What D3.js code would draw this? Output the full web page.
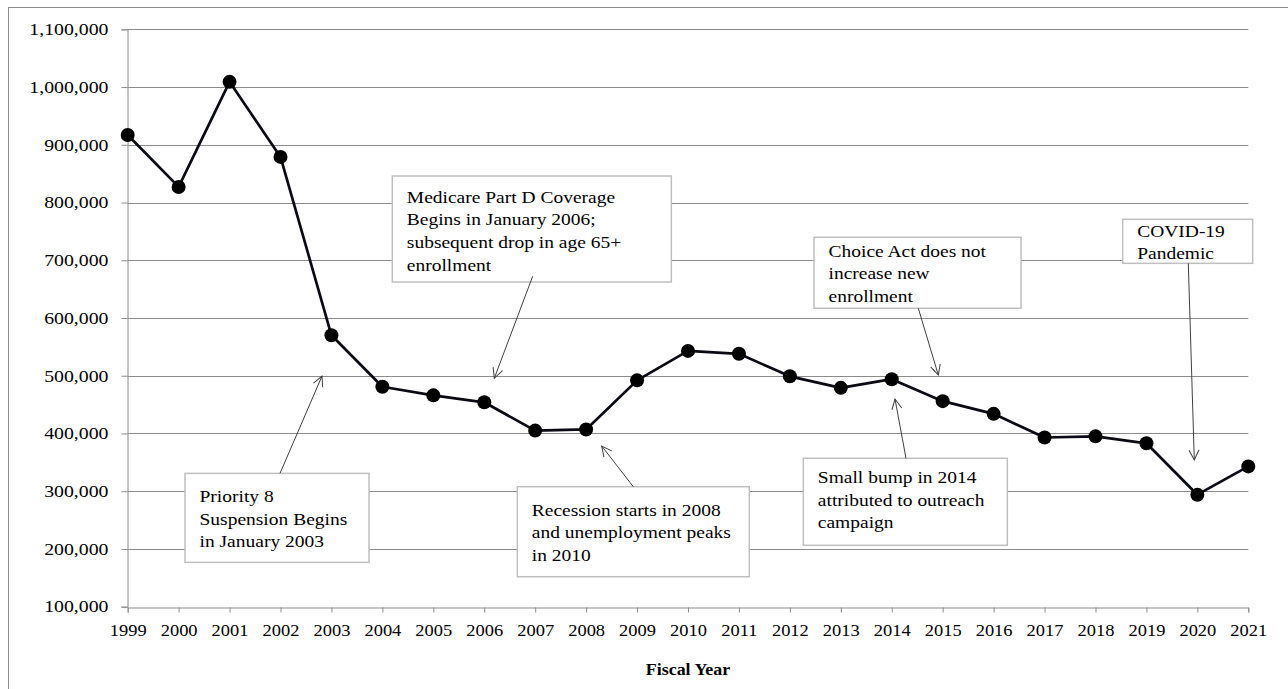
<!DOCTYPE html>
<html>
<head>
<meta charset="utf-8">
<script src="https://cdn.jsdelivr.net/npm/d3@7/dist/d3.min.js"></script>
<style>
  html, body { margin: 0; padding: 0; background: #fff; }
  svg { display: block; }
  text { font-family: "Liberation Serif", "Times New Roman", serif; fill: #000; }
</style>
</head>
<body>
<svg id="chart" width="1288" height="689"></svg>
<script>
// Fiscal years on the x axis
const years = [1999, 2000, 2001, 2002, 2003, 2004, 2005, 2006, 2007, 2008, 2009, 2010,
               2011, 2012, 2013, 2014, 2015, 2016, 2017, 2018, 2019, 2020, 2021];

// New enrollment per fiscal year
const enrollment = [917000, 827000, 1009000, 879000, 570000, 481000, 466000, 454000,
                    405000, 407000, 492000, 543000, 538000, 499000, 479000, 494000,
                    456000, 434000, 393000, 395000, 383000, 294000, 343000];

// Y axis tick values
const yTicks = [100000, 200000, 300000, 400000, 500000, 600000, 700000, 800000,
                900000, 1000000, 1100000];

const xTitle = "Fiscal Year";

// Callout notes: box corner and arrow ends in (year, value) units
const notes = [
  { lines: ["Priority 8", "Suspension Begins", "in January 2003"],
    box: [2000.125, 330900], w: 184, h: 89, padTop: 23,
    from: [2001.99, 330900], to: [2002.815, 499500] },
  { lines: ["Medicare Part D Coverage", "Begins in January 2006;", "subsequent drop in age 65+", "enrollment"],
    box: [2004.195, 845900], w: 279, h: 106, padTop: 21,
    from: [2006.951, 672300], to: [2006.197, 495600] },
  { lines: ["Recession starts in 2008", "and unemployment peaks", "in 2010"],
    box: [2006.649, 307800], w: 232, h: 90, padTop: 23,
    from: [2008.926, 307800], to: [2008.306, 378300] },
  { lines: ["Choice Act does not", "increase new", "enrollment"],
    box: [2012.474, 739800], w: 207, h: 71, padTop: 13.5,
    from: [2014.522, 616700], to: [2014.914, 501300] },
  { lines: ["Small bump in 2014", "attributed to outreach", "campaign"],
    box: [2012.264, 357000], w: 204, h: 87, padTop: 19,
    from: [2014.28, 357000], to: [2014.064, 459700] },
  { lines: ["COVID-19", "Pandemic"],
    box: [2018.534, 770900], w: 130, h: 44, padTop: 11.5,
    from: [2019.822, 694700], to: [2019.94, 354100] }
];

const svg = d3.select("#chart");
const stretch = 1.12;          // wide serif lettering
const lineGap = 22.6;

// Outer chart frame
svg.append("rect")
  .attr("x", 8.5).attr("y", 7.5)
  .attr("width", 1300).attr("height", 700)
  .attr("fill", "none").attr("stroke", "#8c8c8c").attr("stroke-width", 1);

const x = d3.scaleLinear().domain([years[0], years[years.length - 1]]).range([127.7, 1248.3]);
const y = d3.scaleLinear().domain([yTicks[0], yTicks[yTicks.length - 1]]).range([606.7, 29.3]);

// Horizontal gridlines
svg.append("g")
  .selectAll("line")
  .data(yTicks.slice(1))
  .join("line")
  .attr("x1", x.range()[0]).attr("x2", x.range()[1])
  .attr("y1", d => Math.round(y(d)) + 0.5).attr("y2", d => Math.round(y(d)) + 0.5)
  .attr("stroke", "#8c8c8c").attr("stroke-width", 1);

// Y axis
const yStretch = 1.2;
const yAxis = svg.append("g")
  .attr("transform", `translate(${Math.round(x.range()[0]) - 0.5},0)`)
  .call(d3.axisLeft(y).tickValues(yTicks).tickFormat(d3.format(",")).tickSize(6).tickPadding(13));
yAxis.select(".domain").attr("stroke", "#8c8c8c");
yAxis.selectAll(".tick line").attr("stroke", "#8c8c8c");
yAxis.selectAll(".tick text")
  .attr("font-size", 16.5)
  .attr("font-family", "Liberation Serif, serif")
  .attr("fill", "#000")
  .attr("x", -19 / yStretch)
  .attr("transform", `scale(${yStretch},1)`);

// X axis
const xAxis = svg.append("g")
  .attr("transform", `translate(0,${Math.round(y.range()[0]) + 0.5})`)
  .call(d3.axisBottom(x).tickValues(years).tickFormat(d3.format("d")).tickSize(5).tickPadding(12));
xAxis.select(".domain").attr("stroke", "#8c8c8c");
xAxis.selectAll(".tick line").attr("stroke", "#8c8c8c");
xAxis.selectAll(".tick text")
  .attr("font-size", 16.5)
  .attr("font-family", "Liberation Serif, serif")
  .attr("fill", "#000")
  .attr("transform", `scale(${stretch},1)`);

// X axis title
svg.append("text")
  .attr("transform", `translate(688,675) scale(${stretch},1)`)
  .attr("text-anchor", "middle")
  .attr("font-size", 16)
  .attr("font-weight", "bold")
  .text(xTitle);

// Enrollment line and markers
const pts = years.map((yr, i) => [x(yr), y(enrollment[i])]);
svg.append("path")
  .attr("d", d3.line()(pts))
  .attr("fill", "none")
  .attr("stroke", "#0a0a14")
  .attr("stroke-width", 2.7)
  .attr("stroke-linejoin", "round");

svg.append("g")
  .selectAll("circle")
  .data(pts)
  .join("circle")
  .attr("cx", d => d[0]).attr("cy", d => d[1])
  .attr("r", 7)
  .attr("fill", "#000");

// Callouts
const defs = svg.append("defs");
defs.append("marker")
  .attr("id", "openArrow")
  .attr("viewBox", "0 0 12 12")
  .attr("refX", 11).attr("refY", 6)
  .attr("markerWidth", 12).attr("markerHeight", 12)
  .attr("markerUnits", "userSpaceOnUse")
  .attr("orient", "auto")
  .append("path")
  .attr("d", "M1,1 L11,6 L1,11")
  .attr("fill", "none")
  .attr("stroke", "#404040")
  .attr("stroke-width", 1);

const noteG = svg.append("g")
  .selectAll("g")
  .data(notes)
  .join("g");

noteG.append("rect")
  .attr("x", d => x(d.box[0]))
  .attr("y", d => y(d.box[1]))
  .attr("width", d => d.w)
  .attr("height", d => d.h)
  .attr("fill", "#fff")
  .attr("stroke", "#bfbfbf")
  .attr("stroke-width", 1.5);

noteG.each(function (d) {
  const g = d3.select(this);
  const left = x(d.box[0]) + 14.5;
  const top = y(d.box[1]) + d.padTop;
  d.lines.forEach((ln, i) => {
    g.append("text")
      .attr("transform", `translate(${left},${top + i * lineGap + 5.8}) scale(${stretch},1)`)
      .attr("font-size", 17.4)
      .text(ln);
  });
});

noteG.append("line")
  .attr("x1", d => x(d.from[0])).attr("y1", d => y(d.from[1]))
  .attr("x2", d => x(d.to[0])).attr("y2", d => y(d.to[1]))
  .attr("stroke", "#404040")
  .attr("stroke-width", 1)
  .attr("marker-end", "url(#openArrow)");
</script>
</body>
</html>
